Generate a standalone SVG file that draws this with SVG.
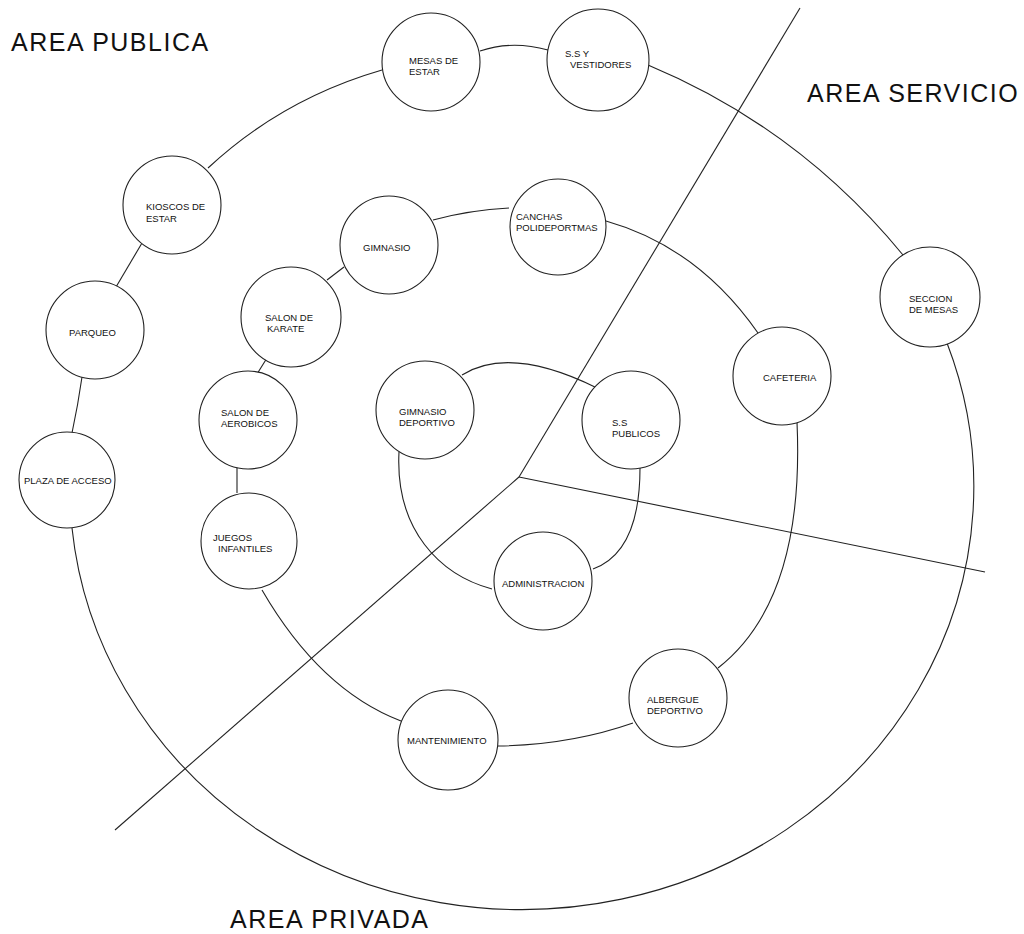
<svg xmlns="http://www.w3.org/2000/svg" width="1024" height="934" viewBox="0 0 1024 934">
<style>
.n circle{fill:#fff;stroke:#222;stroke-width:1.1}
.n text,.t{font-family:"Liberation Sans",Arial,sans-serif;font-size:9.5px;fill:#111}
.c path{fill:none;stroke:#222;stroke-width:1.1}
.area{font-family:"Liberation Sans",Arial,sans-serif;font-size:25px;fill:#111;letter-spacing:1.5px}
</style>
<rect width="1024" height="934" fill="#fff"/>
<g id="connectors" class="c">
<path d="M800,8 L519,477"/>
<path d="M519,477 L115,830"/>
<path d="M519,477 L985,572"/>
<path d="M947,343 A452,423 0 1 1 72,528"/>
<path d="M72,433 Q78,405 82,377"/>
<path d="M116,287 L142,243"/>
<path d="M208,168 Q282,99 382,70"/>
<path d="M480,51 Q512,40 548,50"/>
<path d="M648,65 Q799,128 903,255"/>
<path d="M433,220 Q470,210 509,208"/>
<path d="M606,221 Q698,247 758,333"/>
<path d="M797,422 Q805,600 718,668"/>
<path d="M633,723 Q570,745 498,746"/>
<path d="M401,721 Q320,690 262,590"/>
<path d="M237,493 L237,467"/>
<path d="M257,374 L267,358"/>
<path d="M327,280 L344,267"/>
<path d="M462,375 Q510,345 597,388"/>
<path d="M640,468 Q640,552 593,569"/>
<path d="M492,589 C440,575 395,530 399,452"/>
</g>
<g id="mesas-de-estar" class="n"><circle cx="431" cy="62" r="49"/><text x="409" y="64">MESAS DE</text><text x="409" y="75">ESTAR</text></g>
<g id="ss-vestidores" class="n"><circle cx="598" cy="60" r="51"/><text x="565" y="57">S.S Y</text><text x="570" y="68">VESTIDORES</text></g>
<g id="kioscos" class="n"><circle cx="172" cy="205" r="49"/><text x="146" y="210">KIOSCOS DE</text><text x="146" y="222">ESTAR</text></g>
<g id="parqueo" class="n"><circle cx="95" cy="330" r="49"/><text x="69" y="336">PARQUEO</text></g>
<g id="plaza" class="n"><circle cx="67" cy="480" r="48"/><text x="24" y="484">PLAZA DE ACCESO</text></g>
<g id="seccion-mesas" class="n"><circle cx="930" cy="297" r="50"/><text x="909" y="302">SECCION</text><text x="909" y="313">DE MESAS</text></g>
<g id="gimnasio" class="n"><circle cx="389" cy="245" r="49"/><text x="363" y="251">GIMNASIO</text></g>
<g id="canchas" class="n"><circle cx="558" cy="227" r="48"/><text x="516" y="220">CANCHAS</text><text x="516" y="231">POLIDEPORTMAS</text></g>
<g id="cafeteria" class="n"><circle cx="782" cy="376" r="49"/><text x="763" y="381">CAFETERIA</text></g>
<g id="albergue" class="n"><circle cx="678" cy="698" r="49"/><text x="647" y="703">ALBERGUE</text><text x="647" y="714">DEPORTIVO</text></g>
<g id="mantenimiento" class="n"><circle cx="448" cy="740" r="50"/><text x="407" y="744">MANTENIMIENTO</text></g>
<g id="juegos" class="n"><circle cx="249" cy="541" r="48"/><text x="213" y="541">JUEGOS</text><text x="218" y="552">INFANTILES</text></g>
<g id="aerobicos" class="n"><circle cx="248" cy="420" r="49"/><text x="221" y="416">SALON DE</text><text x="221" y="427">AEROBICOS</text></g>
<g id="karate" class="n"><circle cx="291" cy="317" r="50"/><text x="265" y="321">SALON DE</text><text x="267" y="332">KARATE</text></g>
<g id="gimnasio-deportivo" class="n"><circle cx="425" cy="410" r="49"/><text x="399" y="415">GIMNASIO</text><text x="399" y="426">DEPORTIVO</text></g>
<g id="ss-publicos" class="n"><circle cx="631" cy="420" r="49"/><text x="612" y="426">S.S</text><text x="612" y="437">PUBLICOS</text></g>
<g id="administracion" class="n"><circle cx="543" cy="581" r="49"/><text x="502" y="587">ADMINISTRACION</text></g>
<g id="labels">
<text class="area" x="11" y="51">AREA PUBLICA</text>
<text class="area" x="807" y="102">AREA SERVICIO</text>
<text class="area" x="230" y="928">AREA PRIVADA</text>
</g>
</svg>
